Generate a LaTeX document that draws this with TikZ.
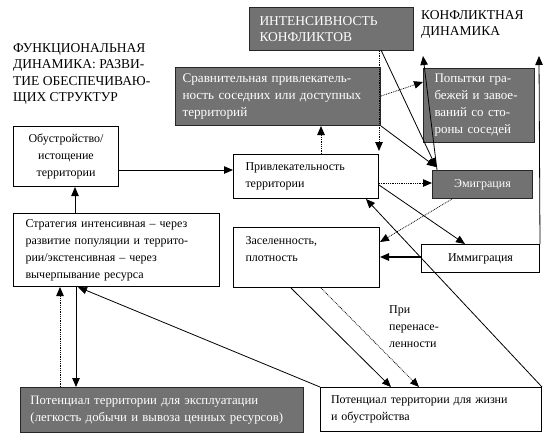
\documentclass[tikz,border=0pt]{standalone}
\usepackage{fontspec}
\setmainfont{Liberation Serif}
\usetikzlibrary{arrows.meta,calc}
\definecolor{boxgray}{RGB}{114,114,114}
\begin{document}
\begin{tikzpicture}[x=1pt,y=-1pt,
  font=\fontsize{12}{17}\selectfont,
  big/.style={font=\fontsize{13}{17}\selectfont},
  bigger/.style={font=\fontsize{13.5}{16.5}\selectfont},
  basebox/.style={draw=black,line width=1pt,anchor=north west,inner xsep=0pt,inner ysep=0pt},
  wbox/.style={basebox,fill=white},
  gbox/.style={basebox,fill=boxgray,text=white,draw=black!85},
  lbl/.style={anchor=north west,inner sep=0pt,align=left},
  arr/.style={line width=0.8pt,-{Triangle[length=9pt,width=7.5pt]}},
  darr/.style={arr,densely dotted},
]
\useasboundingbox (0,0) rectangle (555,440);
% boxes
\node[gbox,bigger,minimum width=164pt,minimum height=43pt,text width=144pt,align=left] (int) at (249,7) {ИНТЕНСИВНОСТЬ\\КОНФЛИКТОВ};
\node[gbox,font=\fontsize{13.2}{17}\selectfont,minimum width=205pt,minimum height=58pt,text width=191pt,align=left] (srv) at (175,67) {Сравнительная привлекатель-\\ность соседних или доступных\\территорий};
\node[gbox,big,minimum width=111pt,minimum height=74pt,text width=89pt,align=left] (pop) at (423,68) {Попытки гра-\\бежей и завое-\\ваний со сто-\\роны соседей};
\node[wbox,minimum width=105pt,minimum height=60pt,text width=105pt,align=center] (obu) at (13,126) {Обустройство/\\истощение\\территории};
\node[wbox,minimum width=145pt,minimum height=44pt,text width=121pt,align=left] (prv) at (233,154) {Привлекательность\\территории};
\node[gbox,minimum width=100pt,minimum height=28pt,text width=100pt,align=center] (emg) at (432,170) {Эмиграция};
\node[wbox,minimum width=206pt,minimum height=73pt,text width=182pt,align=left] (str) at (13,213) {Стратегия интенсивная – через\\развитие популяции и террито-\\рии/экстенсивная – через\\вычерпывание ресурса};
\node[wbox,minimum width=146pt,minimum height=60pt,text width=122pt,align=left] (zas) at (233,227) {Заселенность,\\плотность\\\mbox{}};
\node[wbox,minimum width=118pt,minimum height=28pt,text width=118pt,align=center] (img) at (421,244) {Иммиграция};
\node[gbox,font=\fontsize{12.8}{17}\selectfont,minimum width=283pt,minimum height=45pt,text width=263pt,align=left] (pex) at (20,387) {Потенциал территории для эксплуатации\\(легкость добычи и вывоза ценных ресурсов)};
\node[wbox,minimum width=221pt,minimum height=44pt,text width=200pt,align=left] (pzh) at (320,387) {Потенциал территории для жизни\\и обустройства};
% labels
\node[lbl,bigger] (fun) at (13,43) {ФУНКЦИОНАЛЬНАЯ\\ДИНАМИКА: РАЗВИ-\\ТИЕ ОБЕСПЕЧИВАЮ-\\ЩИХ СТРУКТУР};
\node[lbl,bigger] (cnf) at (421,10) {КОНФЛИКТНАЯ\\ДИНАМИКА};
\node[lbl] (per) at (389,305) {При\\перенасе-\\ленности};
% free ends
\coordinate (cf1) at (423,56);
\coordinate (cf2) at (539,56);
% connectors
\draw[arr] (obu.east |- 0,170) -- (prv.west |- 0,170);
\draw[arr] (str.north -| 75,0) -- (obu.south -| 75,0);
\draw[arr] (str.south -| 76,0) -- (pex.north -| 76,0);
\draw[darr] (pex.north -| 60,0) -- (str.south -| 60,0);
\draw[arr] (pzh.north west) -- (78,287);
\draw[darr] (prv.north -| 321,0) -- (srv.south -| 321,0);
\draw[darr] (int.south -| 379,0) -- (379,151);
\draw[darr] (srv.east |- 0,96) -- (pop.west |- 0,82);
\draw[arr] (381,50) -- (436,167);
\draw[arr] (srv.south east) -- (436,167);
\draw[arr] (emg.north west) ++(5,0) -- (cf1);
\draw[darr] (prv.east |- 0,183) -- (emg.west |- 0,183);
\draw[arr] (prv.east |- 0,185) -- (img.north -| 465,0);
\draw[darr] (emg.south -| 452,0) -- (zas.east |- 0,242);
\draw[arr,line width=1.3pt] (img.west |- 0,257) -- (zas.east |- 0,257);
\draw[arr] (pzh.north east) -- (prv.south -| 366,0);
\draw[arr] (zas.south -| 291,0) -- (pzh.north -| 391,0);
\draw[darr] (zas.south -| 321,0) -- (pzh.north -| 419,0);
\draw[arr] (img.north east) -- (cf2);
\end{tikzpicture}
\end{document}
